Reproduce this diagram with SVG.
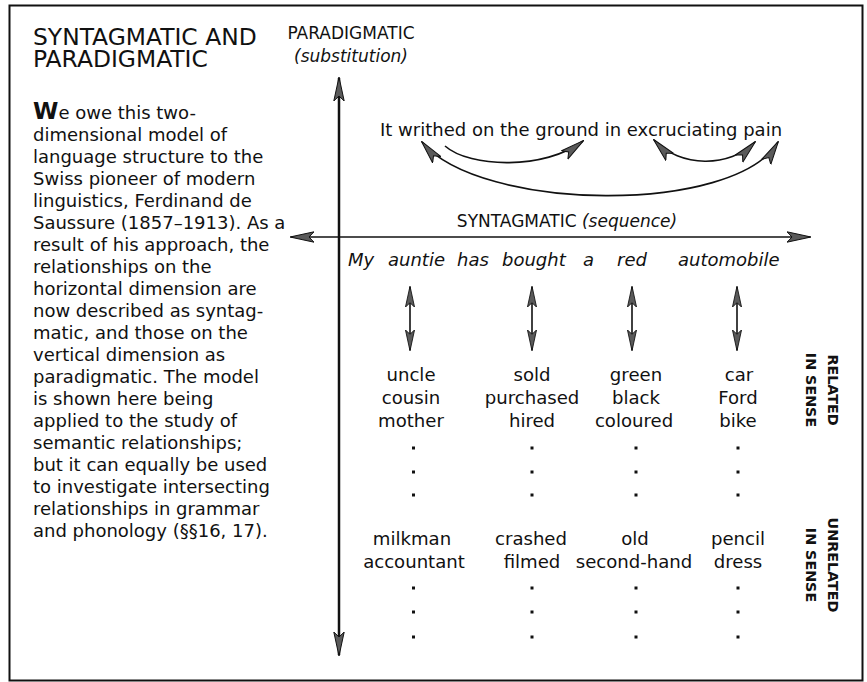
<svg xmlns="http://www.w3.org/2000/svg" width="867" height="682" viewBox="0 0 867 682">
<style>
text{font-family:"DejaVu Sans","Open Sans","Liberation Sans",sans-serif;fill:#111}
.h{font-size:23.4px}
.b{font-size:18px}
.lab{font-size:17px}
.w{font-size:18.1px;text-anchor:middle}
.it{font-style:italic}
.v{font-size:14.3px;font-weight:700;text-anchor:middle}
.ax{stroke:#111;fill:none}
.cv{stroke:#111;stroke-width:1.6;fill:none}
.dot{fill:#111}
</style>
<defs>
<marker id="ah" viewBox="0 0 24 12" refX="23" refY="6" markerWidth="24" markerHeight="12" markerUnits="userSpaceOnUse" orient="auto-start-reverse">
<path d="M0,0.8 L24,6 L0,11.2 L5,6 Z" fill="#5a5a5a" stroke="#111" stroke-width="1"/>
</marker>
<marker id="ahs" viewBox="0 0 24 12" refX="23" refY="6" markerWidth="21" markerHeight="12" markerUnits="userSpaceOnUse" orient="auto-start-reverse">
<path d="M0,0.8 L24,6 L0,11.2 L5,6 Z" fill="#5a5a5a" stroke="#111" stroke-width="1"/>
</marker>
</defs>
<rect x="9.5" y="5.5" width="853" height="675" fill="#fff" stroke="#111" stroke-width="2"/>

<g id="heading">
<text class="h" x="33" y="45">SYNTAGMATIC AND<tspan x="33" dy="22">PARADIGMATIC</tspan></text>
</g>

<g id="body">
<text class="b" x="33" y="119"><tspan font-weight="bold" font-size="23">W</tspan>e owe this two-<tspan x="33" dy="22">dimensional model of</tspan><tspan x="33" dy="22">language structure to the</tspan><tspan x="33" dy="22">Swiss pioneer of modern</tspan><tspan x="33" dy="22">linguistics, Ferdinand de</tspan><tspan x="33" dy="22">Saussure (1857–1913). As a</tspan><tspan x="33" dy="22">result of his approach, the</tspan><tspan x="33" dy="22">relationships on the</tspan><tspan x="33" dy="22">horizontal dimension are</tspan><tspan x="33" dy="22">now described as syntag-</tspan><tspan x="33" dy="22">matic, and those on the</tspan><tspan x="33" dy="22">vertical dimension as</tspan><tspan x="33" dy="22">paradigmatic. The model</tspan><tspan x="33" dy="22">is shown here being</tspan><tspan x="33" dy="22">applied to the study of</tspan><tspan x="33" dy="22">semantic relationships;</tspan><tspan x="33" dy="22">but it can equally be used</tspan><tspan x="33" dy="22">to investigate intersecting</tspan><tspan x="33" dy="22">relationships in grammar</tspan><tspan x="33" dy="22">and phonology (§§16, 17).</tspan></text>
</g>

<g id="axis-labels">
<text class="lab" x="351" y="39" text-anchor="middle">PARADIGMATIC<tspan class="it" x="351" dy="23">(substitution)</tspan></text>
<text class="lab" x="567" y="227" text-anchor="middle" font-size="18.3">SYNTAGMATIC <tspan class="it">(sequence)</tspan></text>
</g>

<g id="connectors">
<line class="ax" stroke-width="2.5" x1="339" y1="655" x2="339" y2="78" marker-start="url(#ah)" marker-end="url(#ah)"/>
<line class="ax" stroke-width="1.6" x1="291" y1="237" x2="810" y2="237" marker-start="url(#ah)" marker-end="url(#ah)"/>
<path class="cv" d="M422,142 C480,212 735,215 778,142" marker-start="url(#ah)" marker-end="url(#ah)"/>
<path class="cv" d="M445,146 C470,168 545,170 583,141" marker-end="url(#ah)"/>
<path class="cv" d="M654,140 C680,168 730,168 755,142" marker-start="url(#ah)" marker-end="url(#ah)"/>
<line class="ax" stroke-width="1.6" x1="410" y1="287" x2="410" y2="350" marker-start="url(#ahs)" marker-end="url(#ahs)"/>
<line class="ax" stroke-width="1.6" x1="532" y1="287" x2="532" y2="350" marker-start="url(#ahs)" marker-end="url(#ahs)"/>
<line class="ax" stroke-width="1.6" x1="632" y1="287" x2="632" y2="350" marker-start="url(#ahs)" marker-end="url(#ahs)"/>
<line class="ax" stroke-width="1.6" x1="737" y1="287" x2="737" y2="350" marker-start="url(#ahs)" marker-end="url(#ahs)"/>
</g>

<g id="sentence-top">
<text class="b" x="380" y="136" font-size="18.5">It writhed on the ground in excruciating pain</text>
</g>

<g id="sentence-main">
<text class="b it" y="266" font-size="18.9"><tspan x="348">My</tspan><tspan x="388">auntie</tspan><tspan x="457">has</tspan><tspan x="502">bought</tspan><tspan x="583">a</tspan><tspan x="617">red</tspan><tspan x="678">automobile</tspan></text>
</g>

<g id="col1">
<text class="w" x="411" y="381">uncle<tspan x="411" dy="23">cousin</tspan><tspan x="411" dy="23">mother</tspan></text>
<text class="w" x="412" y="545">milkman<tspan x="414" dy="23">accountant</tspan></text>
</g>
<g id="col2">
<text class="w" x="532" y="381">sold<tspan x="532" dy="23">purchased</tspan><tspan x="532" dy="23">hired</tspan></text>
<text class="w" x="531" y="545">crashed<tspan x="532" dy="23">filmed</tspan></text>
</g>
<g id="col3">
<text class="w" x="636" y="381">green<tspan x="636" dy="23">black</tspan><tspan x="634" dy="23">coloured</tspan></text>
<text class="w" x="635" y="545">old<tspan x="634" dy="23">second-hand</tspan></text>
</g>
<g id="col4">
<text class="w" x="739" y="381">car<tspan x="738" dy="23">Ford</tspan><tspan x="738" dy="23">bike</tspan></text>
<text class="w" x="738" y="545">pencil<tspan x="738" dy="23">dress</tspan></text>
</g>

<g id="dots">
<rect class="dot" x="412" y="446.5" width="3" height="3"/>
<rect class="dot" x="412" y="470.5" width="3" height="3"/>
<rect class="dot" x="412" y="493.5" width="3" height="3"/>
<rect class="dot" x="530.5" y="446.5" width="3" height="3"/>
<rect class="dot" x="530.5" y="470.5" width="3" height="3"/>
<rect class="dot" x="530.5" y="493.5" width="3" height="3"/>
<rect class="dot" x="634.5" y="446.5" width="3" height="3"/>
<rect class="dot" x="634.5" y="470.5" width="3" height="3"/>
<rect class="dot" x="634.5" y="493.5" width="3" height="3"/>
<rect class="dot" x="736.5" y="446.5" width="3" height="3"/>
<rect class="dot" x="736.5" y="470.5" width="3" height="3"/>
<rect class="dot" x="736.5" y="493.5" width="3" height="3"/>
<rect class="dot" x="412" y="586.5" width="3" height="3"/>
<rect class="dot" x="412" y="610.5" width="3" height="3"/>
<rect class="dot" x="412" y="635.5" width="3" height="3"/>
<rect class="dot" x="530.5" y="586.5" width="3" height="3"/>
<rect class="dot" x="530.5" y="610.5" width="3" height="3"/>
<rect class="dot" x="530.5" y="635.5" width="3" height="3"/>
<rect class="dot" x="634.5" y="586.5" width="3" height="3"/>
<rect class="dot" x="634.5" y="610.5" width="3" height="3"/>
<rect class="dot" x="634.5" y="635.5" width="3" height="3"/>
<rect class="dot" x="736.5" y="586.5" width="3" height="3"/>
<rect class="dot" x="736.5" y="610.5" width="3" height="3"/>
<rect class="dot" x="736.5" y="635.5" width="3" height="3"/>
</g>

<g id="side-labels">
<text class="v" transform="translate(828,390) rotate(90)">RELATED<tspan x="0" dy="22">IN SENSE</tspan></text>
<text class="v" transform="translate(828,565) rotate(90)">UNRELATED<tspan x="0" dy="22">IN SENSE</tspan></text>
</g>
</svg>
